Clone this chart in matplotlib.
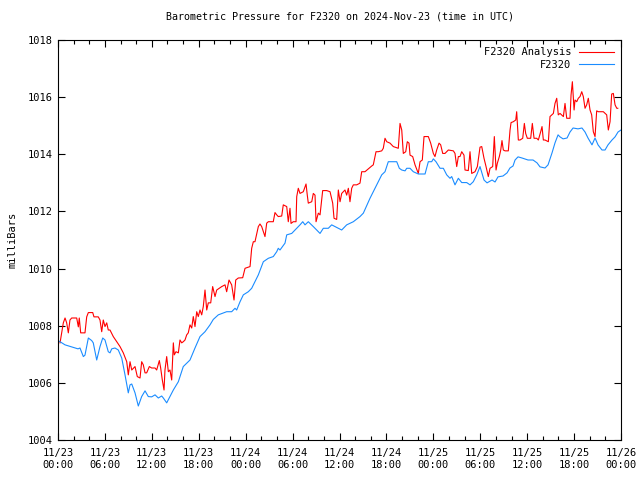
import numpy as np
import matplotlib
matplotlib.use("Agg")
import matplotlib.pyplot as plt
from matplotlib.ticker import MultipleLocator

# hours since 2024-11-23 00:00 UTC, pressure in mb
obs_hours = [0.0, 0.26, 0.90, 2.17, 2.56, 2.81, 3.24, 3.45, 3.88, 4.31, 4.51, 4.95,
             5.37, 5.72, 6.01, 6.43, 6.65, 6.87, 7.29, 7.71, 8.15, 8.57, 8.99, 9.21,
             9.43, 9.85, 10.27, 10.70, 11.13, 11.55, 11.98, 12.41, 12.83, 13.26, 13.47,
             13.90, 14.32, 14.75, 15.39, 16.02, 16.88, 17.52, 18.16, 18.80, 19.44,
             19.86, 20.50, 21.57, 22.21, 22.64, 22.85, 23.28, 23.70, 24.34, 24.77,
             25.19, 25.62, 26.26, 26.90, 27.53, 27.97, 28.17, 28.39, 29.03, 29.25,
             29.89, 30.53, 30.95, 31.30, 31.59, 32.01, 32.65, 33.29, 33.51, 33.93,
             34.57, 35.00, 35.43, 35.85, 36.28, 36.70, 36.92, 37.77, 38.62, 39.05,
             39.90, 40.32, 40.96, 41.40, 41.82, 42.24, 43.32, 43.65, 43.96, 44.38,
             44.60, 45.02, 45.44, 46.08, 46.94, 47.36, 47.79, 48.00, 48.34, 48.86,
             49.28, 49.71, 50.13, 50.35, 50.77, 51.20, 51.63, 52.27, 52.69, 53.11,
             53.55, 53.97, 54.48, 54.87, 55.51, 55.89, 56.27, 56.91, 57.43, 57.80,
             58.19, 58.45, 58.83, 59.34, 60.11, 60.75, 61.26, 61.64, 62.28, 62.67,
             63.18, 63.56, 63.95, 64.20, 64.59, 65.10, 65.48, 65.87, 66.50, 67.01,
             67.40, 67.78, 68.29, 68.68, 69.06, 69.57, 69.96, 70.34, 70.85, 71.24,
             71.62, 72.0]
obs_mb = [1007.47, 1007.44, 1007.33, 1007.22, 1007.19, 1007.22, 1006.92, 1006.97,
          1007.57, 1007.48, 1007.40, 1006.80, 1007.27, 1007.57, 1007.50, 1007.09,
          1007.05, 1007.19, 1007.22, 1007.15, 1006.87, 1006.28, 1005.65, 1005.93,
          1005.96, 1005.65, 1005.19, 1005.52, 1005.72, 1005.52, 1005.51, 1005.58,
          1005.47, 1005.54, 1005.47, 1005.30, 1005.52, 1005.75, 1006.04, 1006.57,
          1006.80, 1007.22, 1007.62, 1007.79, 1008.03, 1008.22, 1008.38, 1008.49,
          1008.49, 1008.61, 1008.55, 1008.84, 1009.08, 1009.19, 1009.31, 1009.54,
          1009.78, 1010.24, 1010.36, 1010.42, 1010.59, 1010.71, 1010.65, 1010.89,
          1011.18, 1011.23, 1011.41, 1011.53, 1011.64, 1011.53, 1011.64, 1011.47,
          1011.29, 1011.23, 1011.41, 1011.41, 1011.53, 1011.47, 1011.41, 1011.35,
          1011.47, 1011.53, 1011.64, 1011.82, 1011.94, 1012.46, 1012.69, 1013.04,
          1013.28, 1013.39, 1013.74, 1013.74, 1013.51, 1013.45, 1013.42, 1013.51,
          1013.51, 1013.39, 1013.31, 1013.31, 1013.74, 1013.74, 1013.84, 1013.74,
          1013.51, 1013.51, 1013.28, 1013.16, 1013.22, 1012.93, 1013.16, 1013.01,
          1013.01, 1012.93, 1013.04, 1013.28, 1013.57, 1013.10, 1013.00, 1013.10,
          1013.03, 1013.21, 1013.24, 1013.35, 1013.52, 1013.59, 1013.80, 1013.91,
          1013.87, 1013.80, 1013.80, 1013.70, 1013.56, 1013.52, 1013.63, 1014.05,
          1014.40, 1014.68, 1014.61, 1014.54, 1014.57, 1014.78, 1014.92, 1014.89,
          1014.92, 1014.78, 1014.57, 1014.33, 1014.57, 1014.33, 1014.15, 1014.15,
          1014.33, 1014.50, 1014.61, 1014.78, 1014.85]

ana_hours = [0.26, 0.68, 0.90, 1.11, 1.32, 1.53, 1.75, 2.39, 2.60, 2.72, 2.90, 3.45,
             3.67, 3.88, 4.44, 4.60, 5.15, 5.37, 5.59, 5.79, 6.01, 6.23, 6.43, 6.65,
             7.07, 7.51, 7.93, 8.35, 8.79, 8.99, 9.21, 9.43, 9.85, 10.14, 10.49,
             10.70, 10.91, 11.13, 11.34, 11.68, 11.98, 12.41, 12.62, 12.96, 13.13,
             13.34, 13.56, 13.68, 13.90, 14.11, 14.32, 14.54, 14.75, 14.87, 15.09,
             15.39, 15.60, 15.82, 16.02, 16.24, 16.46, 16.66, 16.88, 17.10, 17.30,
             17.52, 17.74, 17.94, 18.16, 18.38, 18.58, 18.80, 19.02, 19.22, 19.53,
             19.78, 20.08, 20.30, 20.94, 21.36, 21.57, 21.87, 22.21, 22.51, 22.73,
             23.06, 23.62, 23.92, 24.56, 24.77, 24.98, 25.19, 25.62, 25.83, 26.05,
             26.26, 26.47, 26.69, 26.90, 27.53, 27.75, 27.97, 28.17, 28.61, 28.81,
             29.25, 29.45, 29.67, 29.80, 30.09, 30.44, 30.53, 30.73, 30.95, 31.37,
             31.72, 31.88, 32.01, 32.45, 32.65, 32.87, 33.00, 33.29, 33.51, 33.85,
             34.36, 34.79, 35.13, 35.30, 35.64, 35.85, 36.07, 36.28, 36.70, 36.92,
             37.13, 37.34, 37.56, 37.77, 38.20, 38.62, 38.84, 39.26, 40.12, 40.32,
             40.67, 40.96, 41.40, 41.60, 41.82, 42.04, 42.46, 42.88, 43.52, 43.74,
             43.96, 44.16, 44.47, 44.67, 44.89, 45.02, 45.36, 45.66, 46.08, 46.30,
             46.59, 46.81, 47.36, 47.66, 48.00, 48.21, 48.43, 48.73, 48.94, 49.20,
             49.49, 49.92, 50.56, 50.77, 50.99, 51.20, 51.41, 51.63, 51.92, 52.05,
             52.47, 52.69, 52.91, 53.33, 53.63, 53.80, 53.97, 54.19, 54.48, 54.74,
             55.03, 55.25, 55.59, 55.80, 56.02, 56.18, 56.44, 56.62, 56.78, 56.95,
             57.17, 57.59, 57.81, 57.94, 58.23, 58.54, 58.66, 58.87, 59.09, 59.43,
             59.64, 59.81, 60.02, 60.45, 60.66, 60.88, 61.22, 61.43, 61.73, 61.90,
             62.07, 62.28, 62.71, 62.92, 63.35, 63.56, 63.78, 63.98, 64.20, 64.63,
             64.84, 65.06, 65.48, 65.61, 65.78, 66.00, 66.12, 66.34, 66.54, 66.76,
             66.98, 67.18, 67.40, 67.61, 67.82, 68.04, 68.25, 68.46, 68.68, 68.89,
             69.10, 69.74, 70.17, 70.38, 70.60, 70.81, 71.02, 71.24, 71.46, 71.59]
ana_mb = [1007.40, 1008.10, 1008.27, 1008.10, 1007.75, 1008.20, 1008.27, 1008.27,
          1007.96, 1008.27, 1007.75, 1007.75, 1008.31, 1008.46, 1008.46, 1008.31,
          1008.31, 1008.20, 1007.79, 1008.20, 1007.97, 1008.10, 1007.85, 1007.85,
          1007.62, 1007.44, 1007.27, 1007.05, 1006.74, 1006.28, 1006.74, 1006.45,
          1006.57, 1006.22, 1006.17, 1006.74, 1006.63, 1006.35, 1006.35, 1006.57,
          1006.52, 1006.52, 1006.45, 1006.78, 1006.52, 1006.10, 1005.75, 1006.45,
          1006.92, 1006.39, 1006.45, 1006.10, 1007.40, 1006.98, 1007.09, 1007.05,
          1007.50, 1007.40, 1007.44, 1007.50, 1007.68, 1007.75, 1008.03, 1007.92,
          1008.32, 1007.97, 1008.49, 1008.32, 1008.55, 1008.38, 1008.67, 1009.25,
          1008.55, 1008.80, 1008.80, 1009.37, 1009.02, 1009.25, 1009.37, 1009.43,
          1009.19, 1009.60, 1009.43, 1008.90, 1009.60, 1009.67, 1009.68, 1010.01,
          1010.07, 1010.71, 1010.94, 1010.94, 1011.47, 1011.56, 1011.47, 1011.29,
          1011.12, 1011.59, 1011.64, 1011.64, 1011.96, 1011.88, 1011.82, 1011.84,
          1012.23, 1012.17, 1011.64, 1012.11, 1011.58, 1011.64, 1011.64, 1012.52,
          1012.81, 1012.63, 1012.69, 1012.96, 1012.57, 1012.29, 1012.34, 1012.63,
          1012.57, 1011.64, 1011.94, 1011.88, 1012.73, 1012.73, 1012.69, 1012.29,
          1011.76, 1011.72, 1012.75, 1012.34, 1012.63, 1012.75, 1012.57, 1012.81,
          1012.34, 1012.81, 1012.93, 1012.93, 1012.99, 1013.39, 1013.39, 1013.59,
          1013.63, 1014.09, 1014.09, 1014.12, 1014.21, 1014.56, 1014.44, 1014.39,
          1014.27, 1014.21, 1015.08, 1014.85, 1014.03, 1014.09, 1014.44, 1014.39,
          1013.97, 1013.92, 1013.63, 1013.33, 1013.74, 1013.80, 1014.62, 1014.62,
          1014.39, 1014.03, 1013.92, 1014.15, 1014.39, 1014.33, 1014.03, 1014.03,
          1014.15, 1014.12, 1014.03, 1013.57, 1013.92, 1013.92, 1014.09, 1013.97,
          1013.45, 1013.43, 1014.09, 1013.33, 1013.39, 1013.57, 1013.92, 1014.25,
          1014.27, 1013.86, 1013.57, 1013.22, 1013.51, 1013.57, 1014.62, 1013.45,
          1013.68, 1013.92, 1014.15, 1014.48, 1014.15, 1014.12, 1014.12, 1014.85,
          1015.11, 1015.14, 1015.20, 1015.49, 1014.50, 1014.50, 1014.56, 1015.08,
          1014.73, 1014.56, 1014.56, 1015.08, 1014.56, 1014.56, 1014.50, 1014.79,
          1014.97, 1014.50, 1014.50, 1014.44, 1015.32, 1015.43, 1015.78, 1015.96,
          1015.38, 1015.43, 1015.32, 1015.78, 1015.26, 1015.26, 1016.07, 1016.54,
          1015.55, 1015.90, 1015.84, 1015.96, 1016.02, 1016.19, 1016.02, 1015.61,
          1015.73, 1015.96, 1015.55, 1015.38, 1014.79, 1014.62, 1015.52, 1015.49,
          1015.49, 1015.38, 1014.85, 1015.14, 1016.11, 1016.13, 1015.73, 1015.61,
          1015.61]

tick_hours = list(range(0, 73, 6))
tick_labels = ["11/23\n00:00", "11/23\n06:00", "11/23\n12:00", "11/23\n18:00",
               "11/24\n00:00", "11/24\n06:00", "11/24\n12:00", "11/24\n18:00",
               "11/25\n00:00", "11/25\n06:00", "11/25\n12:00", "11/25\n18:00",
               "11/26\n00:00"]

plt.rcParams['font.family'] = ['DejaVu Sans Mono']
plt.rcParams['font.size'] = 7

fig = plt.figure(figsize=(6.4, 4.8), dpi=100)
ax = fig.add_axes([58 / 640, 40 / 480, 563 / 640, 400 / 480])

ax.plot(ana_hours, ana_mb, color='#ff0000', lw=0.8, label='F2320 Analysis')
ax.plot(obs_hours, obs_mb, color='#1a8cff', lw=0.8, label='F2320')

ax.set_xlim(0, 72)
ax.set_ylim(1004, 1018)
ax.set_xticks(tick_hours)
ax.set_xticklabels(tick_labels)
ax.xaxis.set_minor_locator(MultipleLocator(2))
ax.set_yticks(np.arange(1004, 1019, 2))

ax.tick_params(which='both', direction='in', top=True, right=True, width=0.8,
               colors='black', labelsize=7.5)
ax.tick_params(which='major', length=5)
ax.tick_params(which='minor', length=3)
ax.tick_params(axis='x', pad=6)
for s in ax.spines.values():
    s.set_linewidth(0.8)

ax.set_ylabel('milliBars', fontsize=7.5, labelpad=8)
ax.set_title('Barometric Pressure for F2320 on 2024-Nov-23 (time in UTC)',
             fontsize=7.2, pad=15)

leg = ax.legend(loc='upper right', frameon=False, markerfirst=False,
                handlelength=3.3, fontsize=7.5, borderaxespad=0.3,
                labelspacing=0.25, handletextpad=0.8)
for t in leg.get_texts():
    t.set_ha('right')

fig.savefig('out.png', dpi=100)
